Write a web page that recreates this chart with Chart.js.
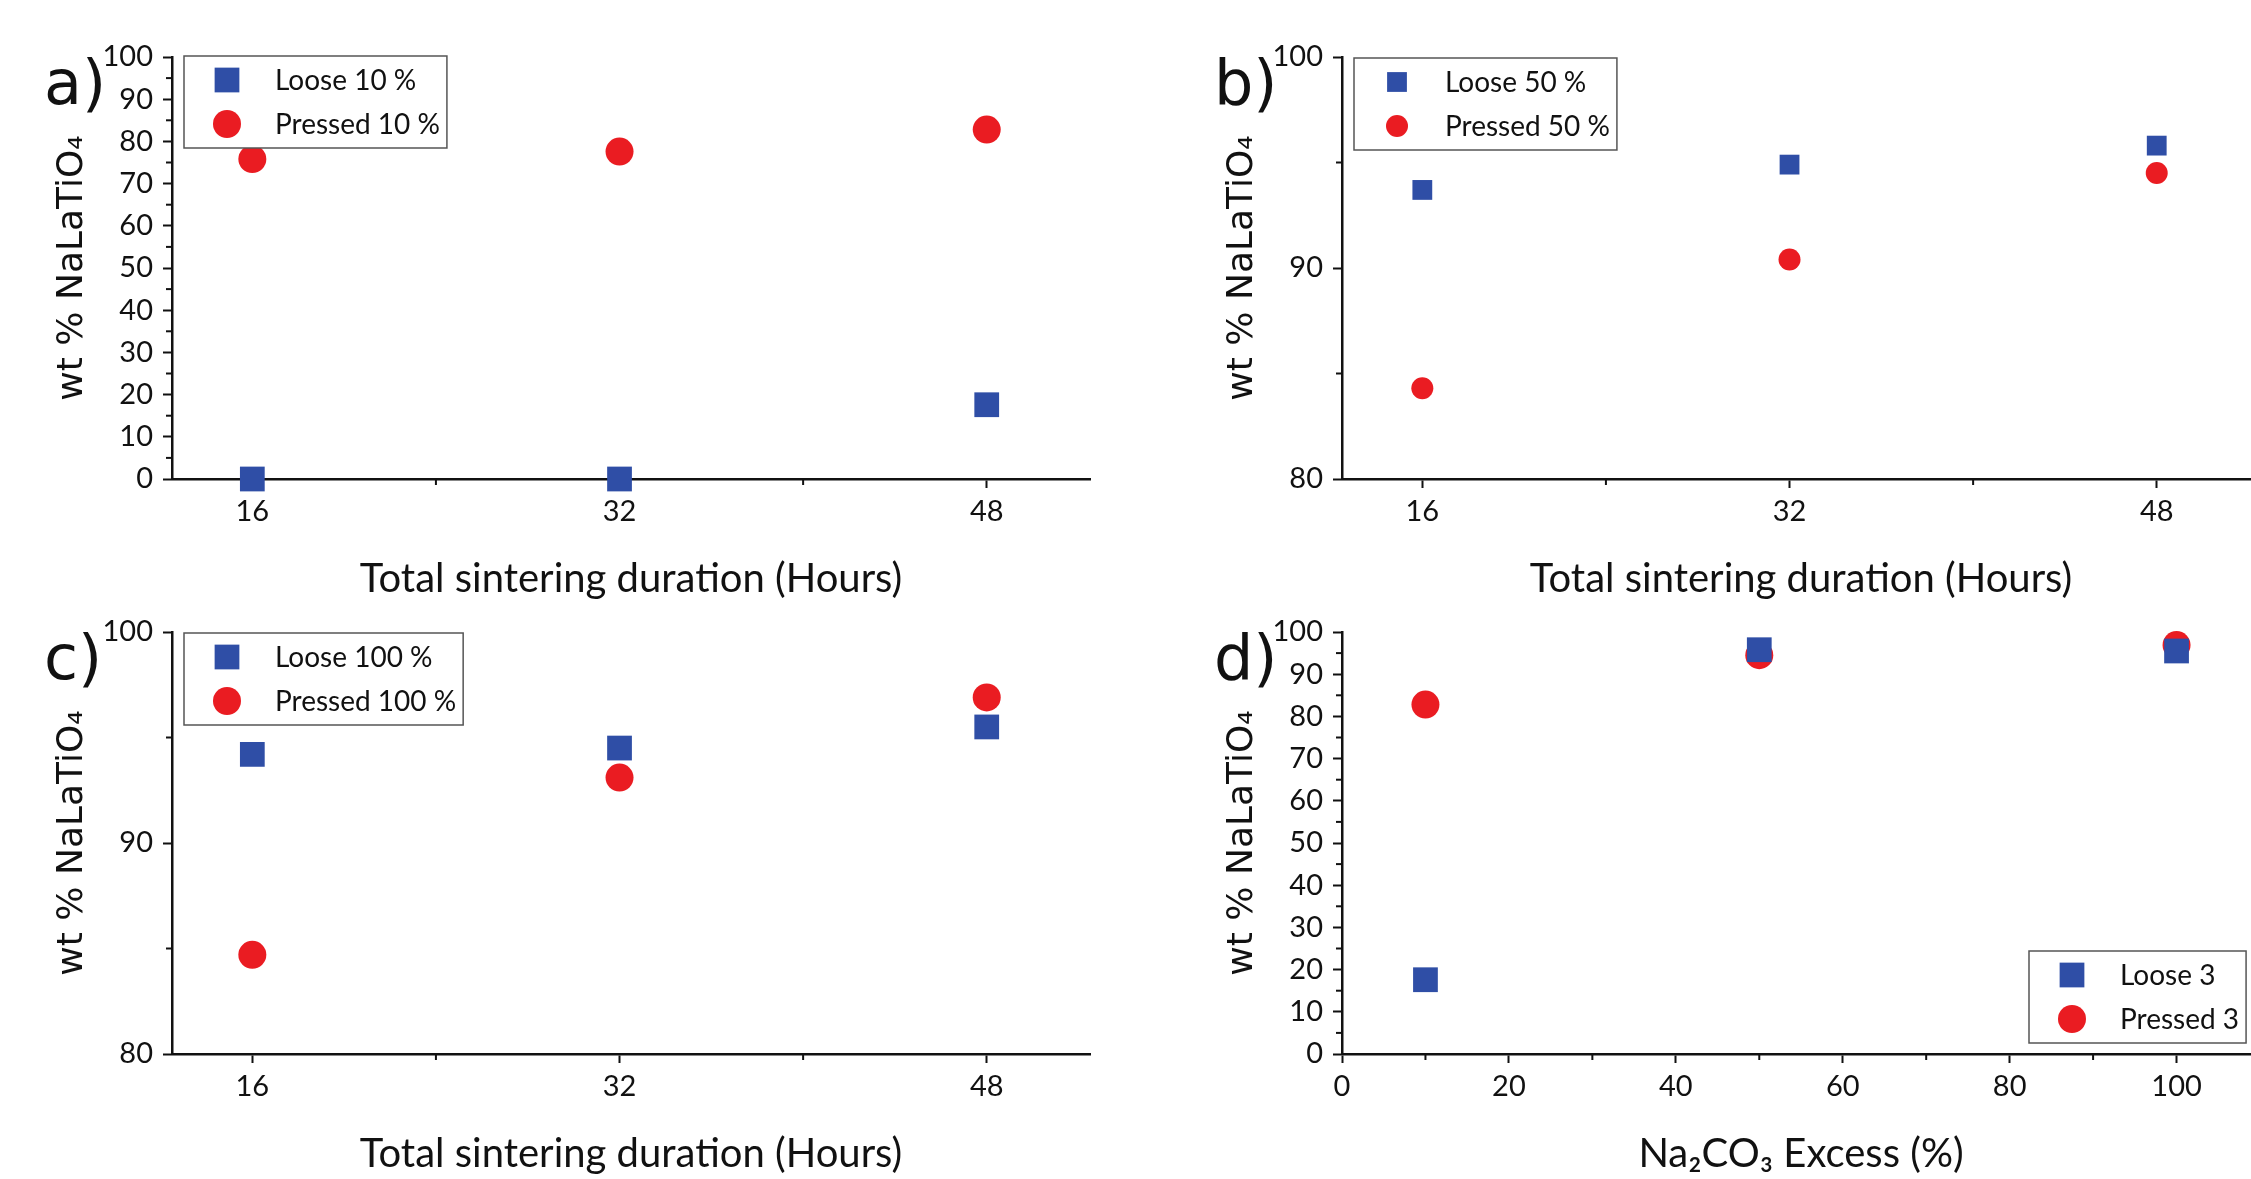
<!DOCTYPE html>
<html>
<head>
<meta charset="utf-8">
<script src="https://cdn.jsdelivr.net/npm/chart.js@4.4.1/dist/chart.umd.min.js"></script>
<style>
  html, body { margin: 0; padding: 0; background: #fff; overflow: hidden; }
  body { width: 2251px; height: 1179px; position: relative; }
  .panel { position: absolute; width: 1125px; height: 620px; }
</style>
</head>
<body>
<div class="panel" style="left:0;top:0"><canvas id="chartA"></canvas></div>
<div class="panel" style="left:1170px;top:0"><canvas id="chartB"></canvas></div>
<div class="panel" style="left:0;top:575px"><canvas id="chartC"></canvas></div>
<div class="panel" style="left:1170px;top:575px"><canvas id="chartD"></canvas></div>
<script>
// sintering durations (hours) and Na2CO3 excess levels (%)
const durations = [16, 32, 48];
const excessLevels = [10, 50, 100];

// wt % NaLaTiO4 per sample
const loose10 = [0, 0, 17.6];
const pressed10 = [75.8, 77.6, 82.8];
const loose50 = [93.7, 94.9, 95.8];
const pressed50 = [84.3, 90.4, 94.5];
const loose100 = [94.2, 94.5, 95.5];
const pressed100 = [84.7, 93.1, 96.9];
const loose3 = [17.6, 95.8, 95.5];
const pressed3 = [82.8, 94.5, 96.9];

// tick labels
const durationTicks = [16, 32, 48];
const excessTicks = [0, 20, 40, 60, 80, 100];
const fullTicks = [0, 10, 20, 30, 40, 50, 60, 70, 80, 90, 100];
const highTicks = [80, 90, 100];

const BLUE = '#2f4ea6';
const RED = '#ea1c22';
const tickFont = { family: 'Lato', size: 29 };

function pairs(xs, ys) {
  return xs.map((x, i) => ({ x: x, y: ys[i] }));
}

// short unlabelled ticks half way between the labelled ones
const minorTicks = {
  id: 'minorTicks',
  beforeDatasetsDraw(chart) {
    const { ctx, chartArea } = chart;
    ctx.save();
    ctx.strokeStyle = '#111';
    ctx.lineWidth = 2;
    ['x', 'y'].forEach(id => {
      const scale = chart.scales[id];
      const vals = scale.ticks.map(t => t.value);
      const half = (vals[1] - vals[0]) / 2;
      for (let v = vals[0] - half; v <= scale.max; v += 2 * half) {
        if (v < scale.min) continue;
        const p = scale.getPixelForValue(v);
        ctx.beginPath();
        if (id === 'x') {
          ctx.moveTo(p, chartArea.bottom);
          ctx.lineTo(p, chartArea.bottom + 6);
        } else {
          ctx.moveTo(chartArea.left, p);
          ctx.lineTo(chartArea.left - 6, p);
        }
        ctx.stroke();
      }
    });
    ctx.restore();
  }
};

// framed legend placed inside the plot
const boxLegend = {
  id: 'boxLegend',
  afterDatasetsDraw(chart, args, opts) {
    const { ctx, chartArea } = chart;
    const left = chartArea.left + opts.left;
    const top = chartArea.top + opts.top;
    ctx.save();
    ctx.font = '28px Lato';
    const textW = Math.max(...chart.data.datasets.map(ds => ctx.measureText(ds.label).width));
    const w = 91 + textW + 7;
    const h = 92;
    ctx.fillStyle = '#fff';
    ctx.fillRect(left, top, w, h);
    ctx.strokeStyle = '#555';
    ctx.lineWidth = 1.5;
    ctx.strokeRect(left, top, w, h);
    chart.data.datasets.forEach((ds, i) => {
      const cy = top + (i === 0 ? 24 : 68);
      const cx = left + 43;
      const r = ds.pointRadius;
      ctx.fillStyle = ds.backgroundColor;
      ctx.beginPath();
      if (ds.pointStyle === 'rect') {
        const s = r * Math.SQRT1_2;
        ctx.rect(cx - s, cy - s, 2 * s, 2 * s);
      } else {
        ctx.arc(cx, cy, r, 0, Math.PI * 2);
      }
      ctx.fill();
      ctx.fillStyle = '#111';
      ctx.textBaseline = 'middle';
      ctx.fillText(ds.label, left + 91, cy + 1);
    });
    ctx.restore();
  }
};

// panel letter
const panelLabel = {
  id: 'panelLabel',
  afterDraw(chart, args, opts) {
    const { ctx, chartArea } = chart;
    ctx.save();
    ctx.font = '62px "DejaVu Sans"';
    ctx.fillStyle = '#111';
    ctx.textBaseline = 'alphabetic';
    ctx.fillText(opts.text, chartArea.left - 128, chartArea.top + 47);
    ctx.restore();
  }
};

function makeChart(id, cfg) {
  const sizeSet = cfg.big ? { sq: 17.5, ci: 14 } : { sq: 14, ci: 11 };
  return new Chart(document.getElementById(id), {
    type: 'scatter',
    data: {
      datasets: [
        {
          label: cfg.labels[0],
          data: pairs(cfg.xs, cfg.loose),
          pointStyle: 'rect',
          pointRadius: sizeSet.sq,
          backgroundColor: BLUE,
          borderWidth: 0,
          clip: false
        },
        {
          label: cfg.labels[1],
          data: pairs(cfg.xs, cfg.pressed),
          pointStyle: 'circle',
          pointRadius: sizeSet.ci,
          backgroundColor: RED,
          borderWidth: 0,
          clip: false
        }
      ]
    },
    options: {
      responsive: true,
      maintainAspectRatio: false,
      animation: false,
      events: [],
      layout: { padding: { left: 0, top: 57, right: 35, bottom: 0 } },
      plugins: {
        legend: { display: false },
        tooltip: { enabled: false },
        boxLegend: cfg.legendAt,
        panelLabel: { text: cfg.letter }
      },
      scales: {
        x: {
          type: 'linear',
          min: cfg.xRange[0],
          max: cfg.xRange[1],
          afterBuildTicks: s => { s.ticks = cfg.xTicks.map(v => ({ value: v })); },
          afterFit: s => { s.height = 141; },
          grid: { display: true, drawOnChartArea: false, drawTicks: true, tickLength: 9, tickWidth: 2, tickColor: '#111' },
          border: { display: true, color: '#111', width: 2.5 },
          ticks: { color: '#111', font: tickFont, padding: 6, maxRotation: 0 },
          title: {
            display: true,
            text: cfg.xTitle,
            color: '#111',
            font: { family: 'Lato', size: 40 },
            padding: { top: 0, bottom: 17 }
          }
        },
        y: {
          type: 'linear',
          min: cfg.yTicks[0],
          max: cfg.yTicks[cfg.yTicks.length - 1],
          afterBuildTicks: s => { s.ticks = cfg.yTicks.map(v => ({ value: v })); },
          afterFit: s => { s.width = 172; },
          grid: { display: true, drawOnChartArea: false, drawTicks: true, tickLength: 9, tickWidth: 2, tickColor: '#111' },
          border: { display: true, color: '#111', width: 2.5 },
          ticks: { color: '#111', font: tickFont, padding: 10 },
          title: {
            display: true,
            text: 'wt % NaLaTiO\u2084',
            color: '#111',
            font: { family: 'DejaVu Sans', size: 36 },
            padding: { top: 51, bottom: 0 }
          }
        }
      }
    },
    plugins: [minorTicks, boxLegend, panelLabel]
  });
}

makeChart('chartA', {
  letter: 'a)', big: true,
  labels: ['Loose 10 %', 'Pressed 10 %'],
  xs: durations, loose: loose10, pressed: pressed10,
  xRange: [12.5, 52.5], xTicks: durationTicks, yTicks: fullTicks,
  xTitle: 'Total sintering duration (Hours)',
  legendAt: { left: 12, top: -1 }
});

makeChart('chartB', {
  letter: 'b)', big: false,
  labels: ['Loose 50 %', 'Pressed 50 %'],
  xs: durations, loose: loose50, pressed: pressed50,
  xRange: [12.5, 52.5], xTicks: durationTicks, yTicks: highTicks,
  xTitle: 'Total sintering duration (Hours)',
  legendAt: { left: 12, top: 1 }
});

makeChart('chartC', {
  letter: 'c)', big: true,
  labels: ['Loose 100 %', 'Pressed 100 %'],
  xs: durations, loose: loose100, pressed: pressed100,
  xRange: [12.5, 52.5], xTicks: durationTicks, yTicks: highTicks,
  xTitle: 'Total sintering duration (Hours)',
  legendAt: { left: 12, top: 1 }
});

makeChart('chartD', {
  letter: 'd)', big: true,
  labels: ['Loose 3', 'Pressed 3'],
  xs: excessLevels, loose: loose3, pressed: pressed3,
  xRange: [0, 110], xTicks: excessTicks, yTicks: fullTicks,
  xTitle: 'Na\u2082CO\u2083 Excess (%)',
  legendAt: { left: 687, top: 319 }
});
</script>
</body>
</html>
